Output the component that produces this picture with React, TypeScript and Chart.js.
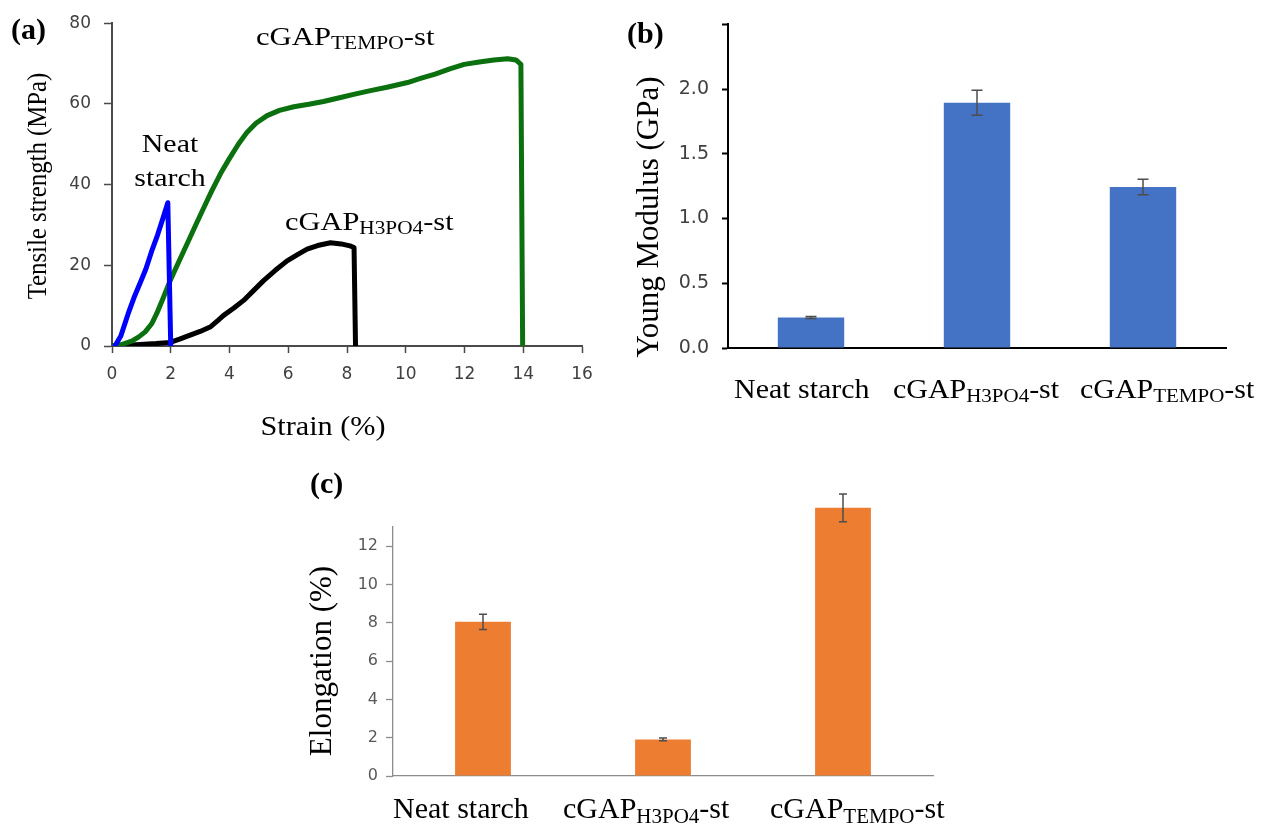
import React, { useEffect, useRef } from 'react';
import { Chart, registerables } from 'chart.js';

Chart.register(...registerables);

const SERIF = '"Liberation Serif", "Times New Roman", serif';
const SANS = '"DejaVu Sans", "Liberation Sans", sans-serif';

// ---------- (a) stress–strain curves ----------
const neatStrain = [0.1, 0.3, 0.55, 0.75, 0.95, 1.15, 1.35, 1.55, 1.75, 1.9, 2.0];
const neatStress = [0, 2.5, 8, 12, 15.5, 19, 23.5, 27.5, 32, 35.5, 0];

const tempoStrain = [0, 0.3, 0.67, 0.9, 1.13, 1.35, 1.52, 1.75, 1.98, 2.25, 2.55, 2.85, 3.12, 3.4, 3.7, 4.0, 4.3, 4.6, 4.9, 5.28, 5.7, 6.19, 6.7, 7.2, 7.78, 8.3, 8.8, 9.4, 10.06, 10.5, 11.0, 11.5, 11.99, 12.5, 13.0, 13.47, 13.75, 13.92, 13.98];
const tempoStress = [0, 0.3, 1.2, 2.2, 3.5, 5.5, 8, 12, 16.2, 20.5, 25.2, 30, 34.2, 38.5, 42.8, 46.5, 50, 53, 55.2, 57.1, 58.4, 59.3, 59.9, 60.6, 61.6, 62.5, 63.3, 64.2, 65.3, 66.3, 67.4, 68.7, 69.8, 70.4, 70.9, 71.2, 70.9, 69.8, 0];

const h3po4Strain = [0, 0.5, 0.96, 1.5, 1.98, 2.3, 2.66, 3.0, 3.34, 3.6, 3.8, 4.15, 4.48, 4.8, 5.16, 5.55, 5.96, 6.3, 6.64, 7.0, 7.44, 7.8, 8.1, 8.24, 8.29];
const h3po4Stress = [0, 0.2, 0.4, 0.6, 0.9, 1.7, 2.7, 3.6, 4.7, 6.3, 7.6, 9.4, 11.3, 13.6, 16.2, 18.7, 21.1, 22.6, 24.0, 24.9, 25.6, 25.3, 24.8, 24.4, 0];

// ---------- (b), (c) bar charts ----------
const categories = ['Neat starch', 'cGAP_H3PO4-st', 'cGAP_TEMPO-st'];
const youngModulus = [0.235, 1.895, 1.243];
const youngModulusErr = [0.008, 0.097, 0.06];
const elongation = [8.05, 1.91, 14.0];
const elongationErr = [0.4, 0.07, 0.72];

type TextItem = {
  text: string; x: number; y: number; size: number; bold?: boolean;
  align?: 'left' | 'center'; rotate?: boolean; sx?: number; color?: string;
  baseline?: CanvasTextBaseline;
};

function segments(s: string) {
  const m = s.match(/^([^_]*)_([^-]+)(.*)$/);
  return m
    ? [{ t: m[1], sub: false }, { t: m[2], sub: true }, { t: m[3], sub: false }]
    : [{ t: s, sub: false }];
}

function drawRich(ctx: CanvasRenderingContext2D, it: TextItem) {
  const segs = segments(it.text);
  const font = (sz: number) => `${it.bold ? 'bold ' : ''}${sz}px ${SERIF}`;
  const subSize = it.size * 0.7;
  ctx.save();
  ctx.translate(it.x, it.y);
  if (it.rotate) ctx.rotate(-Math.PI / 2);
  ctx.scale(it.sx ?? 1, 1);
  ctx.fillStyle = it.color ?? '#000';
  ctx.textBaseline = it.baseline ?? 'alphabetic';
  ctx.textAlign = 'left';
  let w = 0;
  segs.forEach((s) => { ctx.font = font(s.sub ? subSize : it.size); w += ctx.measureText(s.t).width; });
  let cx = it.align === 'center' ? -w / 2 : 0;
  segs.forEach((s) => {
    ctx.font = font(s.sub ? subSize : it.size);
    ctx.fillText(s.t, cx, s.sub ? it.size * 0.15 : 0);
    cx += ctx.measureText(s.t).width;
  });
  ctx.restore();
}

const textPlugin = (id: string, items: TextItem[]) => ({
  id,
  afterDraw(chart: any) { items.forEach((it) => drawRich(chart.ctx, it)); },
});

const errorBarPlugin = (id: string, errs: number[], cap: number, color: string) => ({
  id,
  afterDatasetsDraw(chart: any) {
    const meta = chart.getDatasetMeta(0);
    const ys = chart.scales.y;
    const vals = chart.data.datasets[0].data as number[];
    const ctx = chart.ctx as CanvasRenderingContext2D;
    ctx.save();
    ctx.strokeStyle = color;
    ctx.lineWidth = 1.5;
    meta.data.forEach((bar: any, i: number) => {
      const x = bar.x;
      const hi = ys.getPixelForValue(vals[i] + errs[i]);
      const lo = ys.getPixelForValue(vals[i] - errs[i]);
      ctx.beginPath();
      ctx.moveTo(x, hi); ctx.lineTo(x, lo);
      ctx.moveTo(x - cap / 2, hi); ctx.lineTo(x + cap / 2, hi);
      ctx.moveTo(x - cap / 2, lo); ctx.lineTo(x + cap / 2, lo);
      ctx.stroke();
    });
    ctx.restore();
  },
});

const W = 1267;
const H = 829;

function pts(xs: number[], ys: number[]) {
  return xs.map((x, i) => ({ x, y: ys[i] }));
}

function configA(): any {
  const axisColor = '#4a4a4a';
  const lineDs = (label: string, xs: number[], ys: number[], color: string) => ({
    label, data: pts(xs, ys), borderColor: color, backgroundColor: color,
    borderWidth: 5, pointRadius: 0, showLine: true, tension: 0,
    borderJoinStyle: 'round', borderCapStyle: 'round', fill: false,
  });
  return {
    type: 'scatter',
    data: {
      datasets: [
        lineDs('Neat starch', neatStrain, neatStress, '#0000ff'),
        lineDs('cGAP_TEMPO-st', tempoStrain, tempoStress, '#0b700e'),
        lineDs('cGAP_H3PO4-st', h3po4Strain, h3po4Stress, '#000000'),
      ],
    },
    options: {
      responsive: false, animation: false,
      layout: { padding: { left: 0, top: 21, right: W - 582, bottom: H - 346 - 44 } },
      plugins: { legend: { display: false }, tooltip: { enabled: false } },
      scales: {
        x: {
          type: 'linear', min: 0, max: 16,
          ticks: { stepSize: 2, color: '#404040', font: { family: SANS, size: 17 }, padding: 11 },
          grid: { display: true, drawOnChartArea: false, tickLength: 7, tickColor: axisColor, tickWidth: 1.5 },
          border: { display: true, color: axisColor, width: 2 },
          afterFit: (s: any) => { s.height = 44; },
        },
        y: {
          type: 'linear', min: 0, max: 80,
          ticks: { stepSize: 20, color: '#404040', font: { family: SANS, size: 17 }, padding: 13 },
          grid: { display: true, drawOnChartArea: false, tickLength: 8, tickColor: axisColor, tickWidth: 1.5 },
          border: { display: true, color: axisColor, width: 2 },
          afterFit: (s: any) => { s.width = 112; },
        },
      },
    },
    plugins: [textPlugin('textsA', [
      { text: '(a)', x: 11, y: 39, size: 30, bold: true },
      { text: 'Tensile strength (MPa)', x: 39, y: 186, size: 28, rotate: true, sx: 0.885, align: 'center', baseline: 'middle' },
      { text: 'Strain (%)', x: 323, y: 435, size: 28, align: 'center', sx: 1.08 },
      { text: 'Neat', x: 170, y: 152, size: 26, align: 'center', sx: 1.15 },
      { text: 'starch', x: 170, y: 186, size: 26, align: 'center', sx: 1.15 },
      { text: 'cGAP_TEMPO-st', x: 256, y: 45, size: 26, sx: 1.18 },
      { text: 'cGAP_H3PO4-st', x: 285, y: 230, size: 26, sx: 1.17 },
    ])],
  };
}

function configB(): any {
  const lefts = [734, 893, 1080];
  return {
    type: 'bar',
    data: {
      labels: categories,
      datasets: [{ label: 'Young Modulus', data: youngModulus, backgroundColor: '#4472c4', categoryPercentage: 1, barPercentage: 0.4 }],
    },
    options: {
      responsive: false, animation: false,
      layout: { padding: { left: 628, top: 23, right: W - 1226, bottom: H - 348 - 40 } },
      plugins: { legend: { display: false }, tooltip: { enabled: false } },
      scales: {
        x: {
          type: 'category',
          ticks: { display: false },
          grid: { display: false },
          border: { display: true, color: '#000', width: 2 },
          afterFit: (s: any) => { s.height = 40; },
        },
        y: {
          min: 0, max: 2.5,
          ticks: {
            stepSize: 0.5, color: '#404040', font: { family: SANS, size: 19 }, padding: 13,
            callback: (v: any) => (Number(v) >= 2.5 ? '' : Number(v).toFixed(1)),
          },
          grid: { display: true, drawOnChartArea: false, tickLength: 6, tickColor: '#000', tickWidth: 2 },
          border: { display: true, color: '#000', width: 2 },
          afterFit: (s: any) => { s.width = 100; },
        },
      },
    },
    plugins: [
      errorBarPlugin('errB', youngModulusErr, 11, '#4d4d4d'),
      textPlugin('textsB', [
        { text: '(b)', x: 627, y: 43, size: 30, bold: true },
        { text: 'Young Modulus (GPa)', x: 650, y: 217, size: 31, rotate: true, align: 'center', baseline: 'middle' },
        ...categories.map((c, i) => ({ text: c, x: lefts[i], y: 398, size: 28, sx: 1.07 })),
      ]),
    ],
  };
}

function configC(): any {
  const lefts = [393, 563, 770];
  return {
    type: 'bar',
    data: {
      labels: categories,
      datasets: [{ label: 'Elongation', data: elongation, backgroundColor: '#ed7d31', categoryPercentage: 1, barPercentage: 0.31, clip: false }],
    },
    options: {
      responsive: false, animation: false,
      layout: { padding: { left: 293, top: 527, right: W - 933, bottom: H - 776 - 40 } },
      plugins: { legend: { display: false }, tooltip: { enabled: false } },
      scales: {
        x: {
          type: 'category',
          ticks: { display: false },
          grid: { display: false },
          border: { display: true, color: '#8c8c8c', width: 1.3 },
          afterFit: (s: any) => { s.height = 40; },
        },
        y: {
          min: 0, max: 13,
          ticks: { stepSize: 2, includeBounds: false, color: '#595959', font: { family: SANS, size: 16 }, padding: 8 },
          grid: { display: true, drawOnChartArea: false, tickLength: 7, tickColor: '#8c8c8c', tickWidth: 1.3 },
          border: { display: true, color: '#8c8c8c', width: 1.3 },
          afterFit: (s: any) => { s.width = 100; },
        },
      },
    },
    plugins: [
      errorBarPlugin('errC', elongationErr, 8, '#4d4d4d'),
      textPlugin('textsC', [
        { text: '(c)', x: 310, y: 493, size: 30, bold: true },
        { text: 'Elongation (%)', x: 323, y: 661, size: 31, rotate: true, align: 'center', baseline: 'middle' },
        ...categories.map((c, i) => ({ text: c, x: lefts[i], y: 818, size: 30 })),
      ]),
    ],
  };
}

export default function App() {
  const aRef = useRef<HTMLCanvasElement>(null);
  const bRef = useRef<HTMLCanvasElement>(null);
  const cRef = useRef<HTMLCanvasElement>(null);

  useEffect(() => {
    const charts = [
      new Chart(aRef.current!, configA()),
      new Chart(bRef.current!, configB()),
      new Chart(cRef.current!, configC()),
    ];
    return () => charts.forEach((c) => c.destroy());
  }, []);

  const cs: React.CSSProperties = { position: 'absolute', left: 0, top: 0 };
  return (
    <div style={{ position: 'absolute', left: 0, top: 0, width: W, height: H, background: '#fff', overflow: 'hidden' }}>
      <canvas ref={aRef} width={W} height={H} style={cs} />
      <canvas ref={bRef} width={W} height={H} style={cs} />
      <canvas ref={cRef} width={W} height={H} style={cs} />
    </div>
  );
}
